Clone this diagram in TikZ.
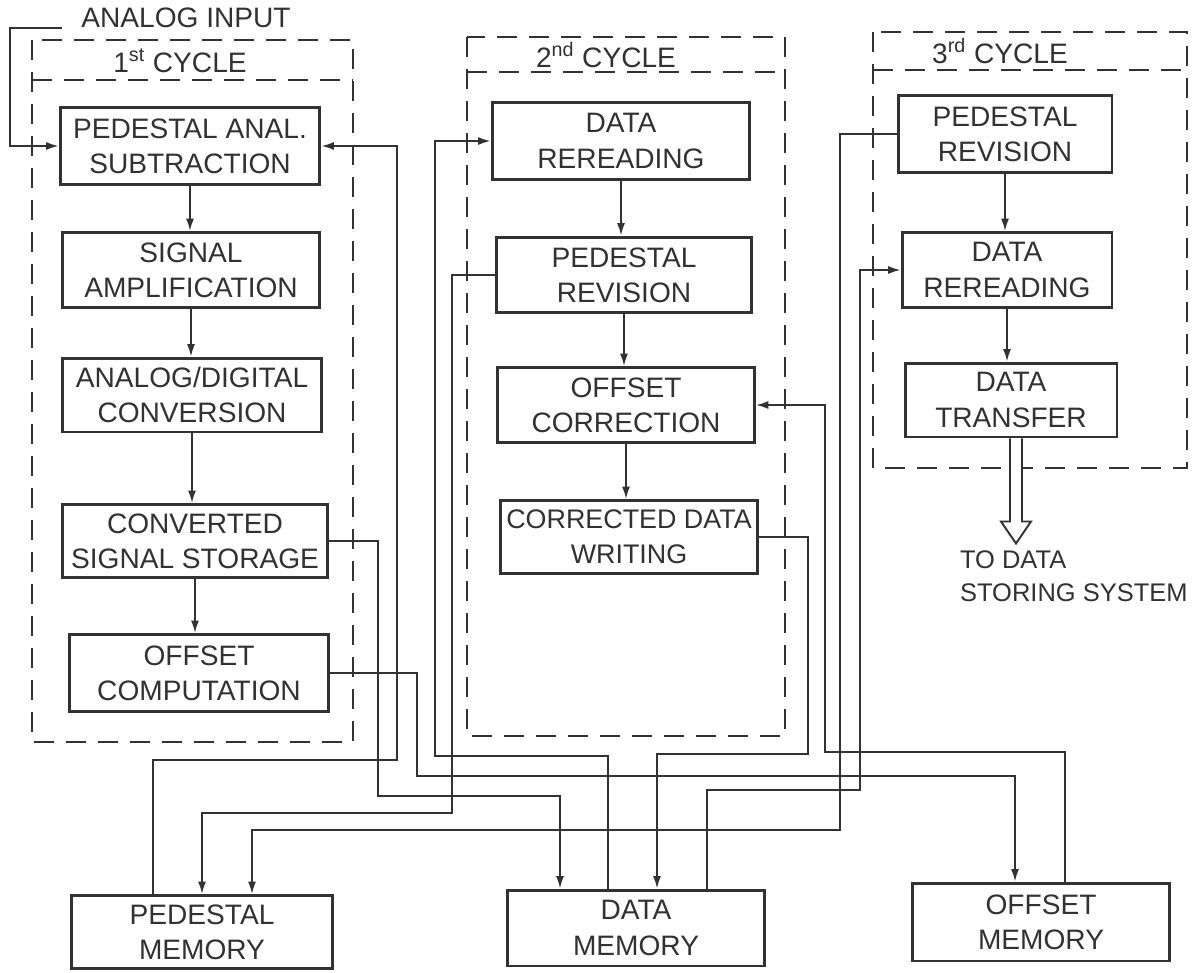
\documentclass[tikz,border=0pt]{standalone}
\usepackage{fontspec}
\setmainfont{Liberation Sans}
\usetikzlibrary{arrows.meta,calc}
\definecolor{ink}{RGB}{50,50,50}
\newcommand{\bfs}{\fontsize{16}{20}\selectfont}
\begin{document}
\begin{tikzpicture}[x=0.02cm,y=-0.02cm,
  box/.style={draw=ink, line width=1.7pt, align=center, inner sep=0pt, font=\bfs, text=ink},
  txt/.style={align=center, inner sep=1pt, font=\bfs, text=ink},
  frame/.style={draw=ink, line width=1.2pt, dash pattern=on 0.4cm off 0.24cm},
  arr/.style={draw=ink, line width=1pt, -{Latex[length=7pt,width=4.5pt]}},
  hollow/.style={draw=ink, line width=1.1pt, fill=white, line join=miter}]
\useasboundingbox (0,0) rectangle (1193,973);
\fill[white] (0,0) rectangle (1193,973);

% cycle frames
\draw[frame] (32,40) rectangle (353,742);
\draw[frame] (32,80) -- (353,80);
\draw[frame] (467,37) rectangle (785,736);
\draw[frame] (467,72) -- (785,72);
\draw[frame] (873,32) rectangle (1187,468);
\draw[frame] (873,70) -- (1187,70);
\node[txt] (t1) at (180,61) {1\textsuperscript{st} CYCLE};
\node[txt] (t2) at (606,55) {2\textsuperscript{nd} CYCLE};
\node[txt] (t3) at (1000,51) {3\textsuperscript{rd} CYCLE};

% 1st cycle
\node[box, minimum width=5.2cm,  minimum height=1.54cm] (sub) at (190,146) {PEDESTAL ANAL.\\SUBTRACTION};
\node[box, minimum width=5.16cm, minimum height=1.5cm]  (amp) at (191,270) {SIGNAL\\AMPLIFICATION};
\node[box, minimum width=5.2cm,  minimum height=1.48cm] (adc) at (192,395) {ANALOG/DIGITAL\\CONVERSION};
\node[box, minimum width=5.3cm,  minimum height=1.46cm] (css) at (195,541) {CONVERTED\\SIGNAL STORAGE};
\node[box, minimum width=5.2cm,  minimum height=1.54cm] (oc)  at (199,673) {OFFSET\\COMPUTATION};

% 2nd cycle
\node[box, minimum width=5.16cm, minimum height=1.54cm] (dr2) at (621,141) {DATA\\REREADING};
\node[box, minimum width=5.12cm, minimum height=1.52cm] (pr2) at (624,275) {PEDESTAL\\REVISION};
\node[box, minimum width=5.14cm, minimum height=1.5cm]  (occ) at (626,405) {OFFSET\\CORRECTION};
\node[box, minimum width=5.16cm, minimum height=1.46cm, font=\fontsize{15.3}{20}\selectfont] (cdw) at (629,537) {CORRECTED DATA\\WRITING};

% 3rd cycle
\node[box, minimum width=4.28cm, minimum height=1.54cm] (pr3) at (1005,134) {PEDESTAL\\REVISION};
\node[box, minimum width=4.2cm,  minimum height=1.5cm]  (dr3) at (1007,270) {DATA\\REREADING};
\node[box, minimum width=4.24cm, minimum height=1.48cm] (dt)  at (1011,400) {DATA\\TRANSFER};

% memories
\node[box, minimum width=5.22cm, minimum height=1.46cm] (pm) at (202,932) {PEDESTAL\\MEMORY};
\node[box, minimum width=5.16cm, minimum height=1.52cm] (dm) at (636,928) {DATA\\MEMORY};
\node[box, minimum width=5.16cm, minimum height=1.56cm] (om) at (1041,922) {OFFSET\\MEMORY};

% analog input
\node[txt, inner xsep=11pt] (ain) at (186,18) {ANALOG INPUT};
\coordinate (inx) at (10,27);
\draw[arr] (ain.base west) -- (ain.base west -| inx) |- (sub.west);

% vertical flow arrows
\draw[arr] (sub.south) -- (sub.south |- amp.north);
\draw[arr] (amp.south) -- (amp.south |- adc.north);
\draw[arr] (adc.south) -- (adc.south |- css.north);
\draw[arr] (css.south) -- (css.south |- oc.north);
\draw[arr] (dr2.south) -- (dr2.south |- pr2.north);
\draw[arr] (pr2.south) -- (pr2.south |- occ.north);
\draw[arr] (occ.south) -- (occ.south |- cdw.north);
\draw[arr] (pr3.south) -- (pr3.south |- dr3.north);
\draw[arr] (dr3.south) -- (dr3.south |- dt.north);

% hollow output arrow
\draw[hollow] ($(dt.south)+(5,0)$) ++(-6,0) -- ++(0,83) -- ++(-9,0) -- ++(15,22) -- ++(15,-22) -- ++(-9,0) -- ++(0,-83);
\node[txt, align=left, anchor=west, font=\fontsize{14.5}{19}\selectfont] (store) at (958,576) {TO DATA\\STORING SYSTEM};

% memory links
\draw[arr] ($(pm.north)+(-49,0)$) |- (397,760) |- (sub.east);
\draw[arr] (css.east) -| (378,796) -| ($(dm.north)+(-76,0)$);
\draw[arr] (oc.east) -| (417,776) -| ($(om.north)+(-26,0)$);
\draw[arr] ($(dm.north)+(-28,0)$) |- (435,756) |- (dr2.west);
\draw[arr] (pr2.west) -| (452,813) -| (pm.north);
\draw[arr] (cdw.east) -| (808,754) -| ($(dm.north)+(21,0)$);
\draw[arr] ($(om.north)+(24,0)$) |- (825,752) |- (occ.east);
\draw[arr] (pr3.west) -| (840,830) -| ($(pm.north)+(50,0)$);
\draw[arr] ($(dm.north)+(71,0)$) |- (860,790) |- (dr3.west);
\end{tikzpicture}
\end{document}
